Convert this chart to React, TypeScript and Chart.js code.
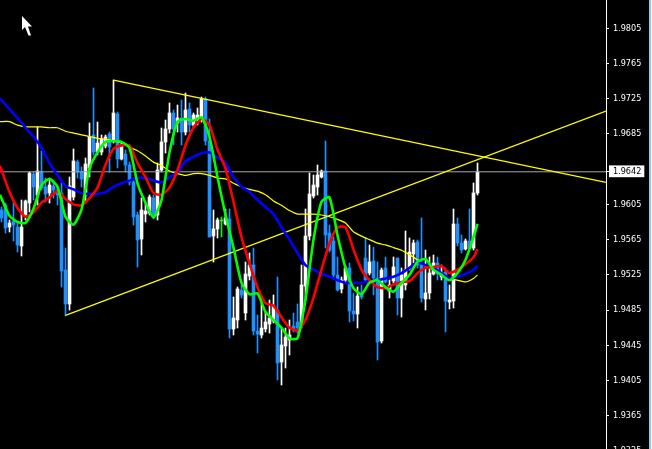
import React, { useEffect, useRef } from "react";
import { Chart, registerables } from "chart.js";

Chart.register(...registerables);

const opens = [1.9599,1.9604,1.9579,1.9586,1.9579,1.9558,1.9593,1.9607,1.9640,1.9616,1.9642,1.9625,1.9618,1.9626,1.9621,1.9618,1.9531,1.9492,1.9613,1.9653,1.9642,1.9616,1.9646,1.9684,1.9664,1.9664,1.9671,1.9685,1.9678,1.9708,1.9657,1.9662,1.9650,1.9630,1.9593,1.9566,1.9594,1.9595,1.9612,1.9593,1.9644,1.9676,1.9691,1.9709,1.9697,1.9703,1.9687,1.9713,1.9695,1.9701,1.9701,1.9725,1.9677,1.9569,1.9577,1.9586,1.9583,1.9588,1.9464,1.9474,1.9508,1.9482,1.9524,1.9536,1.9461,1.9457,1.9464,1.9469,1.9473,1.9485,1.9426,1.9444,1.9451,1.9467,1.9472,1.9468,1.9512,1.9569,1.9615,1.9625,1.9636,1.9643,1.9573,1.9563,1.9525,1.9509,1.9519,1.9533,1.9484,1.9481,1.9504,1.9544,1.9527,1.9541,1.9521,1.9450,1.9533,1.9507,1.9518,1.9544,1.9499,1.9514,1.9533,1.9549,1.9562,1.9536,1.9498,1.9504,1.9526,1.9538,1.9523,1.9528,1.9494,1.9495,1.9583,1.9561,1.9554,1.9563,1.9556,1.9618];
const highs = [1.9602,1.9607,1.9587,1.9607,1.9585,1.9610,1.9610,1.9642,1.9642,1.9693,1.9666,1.9635,1.9633,1.9633,1.9627,1.9630,1.9556,1.9636,1.9668,1.9655,1.9647,1.9658,1.9697,1.9737,1.9699,1.9684,1.9684,1.9687,1.9746,1.9710,1.9675,1.9667,1.9653,1.9635,1.9596,1.9612,1.9607,1.9616,1.9616,1.9652,1.9692,1.9701,1.9720,1.9712,1.9718,1.9724,1.9731,1.9720,1.9709,1.9714,1.9727,1.9727,1.9702,1.9599,1.9590,1.9591,1.9600,1.9600,1.9500,1.9511,1.9514,1.9540,1.9550,1.9556,1.9479,1.9493,1.9483,1.9497,1.9502,1.9523,1.9465,1.9465,1.9474,1.9482,1.9492,1.9536,1.9600,1.9641,1.9638,1.9650,1.9644,1.9677,1.9582,1.9568,1.9545,1.9523,1.9535,1.9538,1.9504,1.9511,1.9514,1.9567,1.9559,1.9557,1.9540,1.9533,1.9545,1.9519,1.9545,1.9544,1.9533,1.9575,1.9567,1.9565,1.9565,1.9590,1.9553,1.9545,1.9548,1.9545,1.9536,1.9533,1.9514,1.9600,1.9590,1.9570,1.9566,1.9600,1.9629,1.9652];
const lows = [1.9585,1.9573,1.9574,1.9563,1.9551,1.9546,1.9587,1.9596,1.9610,1.9604,1.9621,1.9608,1.9607,1.9612,1.9604,1.9511,1.9478,1.9485,1.9610,1.9635,1.9625,1.9607,1.9636,1.9661,1.9661,1.9661,1.9669,1.9642,1.9675,1.9646,1.9655,1.9642,1.9627,1.9582,1.9534,1.9548,1.9585,1.9593,1.9590,1.9587,1.9642,1.9663,1.9686,1.9672,1.9687,1.9672,1.9684,1.9687,1.9692,1.9695,1.9699,1.9672,1.9568,1.9540,1.9567,1.9568,1.9582,1.9453,1.9457,1.9465,1.9499,1.9474,1.9519,1.9457,1.9436,1.9453,1.9460,1.9459,1.9470,1.9406,1.9400,1.9419,1.9434,1.9460,1.9459,1.9465,1.9497,1.9565,1.9612,1.9616,1.9635,1.9556,1.9551,1.9521,1.9507,1.9504,1.9517,1.9472,1.9473,1.9465,1.9498,1.9517,1.9525,1.9502,1.9428,1.9448,1.9516,1.9499,1.9516,1.9479,1.9477,1.9508,1.9531,1.9538,1.9533,1.9494,1.9485,1.9498,1.9525,1.9519,1.9519,1.9460,1.9486,1.9487,1.9558,1.9550,1.9553,1.9556,1.9553,1.9616];
const closes = [1.9590,1.9578,1.9584,1.9582,1.9559,1.9579,1.9609,1.9641,1.9625,1.9643,1.9624,1.9617,1.9627,1.9621,1.9616,1.9529,1.9492,1.9626,1.9654,1.9642,1.9634,1.9651,1.9682,1.9664,1.9675,1.9679,1.9682,1.9670,1.9709,1.9657,1.9672,1.9650,1.9630,1.9591,1.9565,1.9599,1.9598,1.9613,1.9593,1.9644,1.9676,1.9691,1.9709,1.9691,1.9703,1.9687,1.9712,1.9695,1.9706,1.9706,1.9725,1.9677,1.9568,1.9577,1.9587,1.9586,1.9590,1.9464,1.9476,1.9509,1.9502,1.9526,1.9536,1.9461,1.9458,1.9465,1.9472,1.9476,1.9490,1.9425,1.9445,1.9455,1.9457,1.9462,1.9465,1.9514,1.9569,1.9617,1.9627,1.9638,1.9643,1.9570,1.9553,1.9525,1.9508,1.9519,1.9533,1.9484,1.9481,1.9501,1.9500,1.9519,1.9540,1.9521,1.9449,1.9531,1.9517,1.9514,1.9534,1.9499,1.9525,1.9531,1.9551,1.9561,1.9536,1.9499,1.9504,1.9527,1.9538,1.9526,1.9527,1.9495,1.9497,1.9583,1.9561,1.9553,1.9563,1.9556,1.9618,1.9642];

// moving averages, sampled every second candle plus the last candle
const maIndex = [-0.375,2,4,6,8,10,12,14,16,18,20,22,24,26,28,30,32,34,36,38,40,42,44,46,48,50,52,54,56,58,60,62,64,66,68,70,72,74,76,78,80,82,84,86,88,90,92,94,96,98,100,102,104,106,108,110,112,114,116,118,119];
const blueMa = [1.9725,1.9713,1.9703,1.9692,1.9682,1.9669,1.9652,1.9638,1.9626,1.9622,1.9618,1.9617,1.9617,1.9619,1.9625,1.9629,1.9632,1.9635,1.9635,1.9632,1.9630,1.9636,1.9642,1.9654,1.9659,1.9663,1.9664,1.9658,1.9652,1.9636,1.9625,1.9619,1.9610,1.9602,1.9594,1.9579,1.9565,1.9550,1.9536,1.9531,1.9526,1.9523,1.9519,1.9516,1.9516,1.9516,1.9518,1.9519,1.9521,1.9523,1.9527,1.9533,1.9540,1.9536,1.9533,1.9527,1.9521,1.9523,1.9526,1.9531,1.9535];
const redMa = [1.9649,1.9619,1.9601,1.9591,1.9596,1.9607,1.9613,1.9620,1.9611,1.9605,1.9604,1.9612,1.9624,1.9650,1.9668,1.9672,1.9672,1.9652,1.9636,1.9618,1.9616,1.9624,1.9644,1.9672,1.9692,1.9702,1.9695,1.9667,1.9646,1.9608,1.9568,1.9538,1.9511,1.9493,1.9490,1.9477,1.9465,1.9462,1.9474,1.9499,1.9531,1.9561,1.9579,1.9579,1.9554,1.9531,1.9519,1.9511,1.9510,1.9514,1.9517,1.9518,1.9527,1.9533,1.9534,1.9535,1.9527,1.9531,1.9537,1.9545,1.9554];
const greenMa = [1.9616,1.9592,1.9585,1.9584,1.9600,1.9627,1.9634,1.9625,1.9591,1.9582,1.9599,1.9646,1.9664,1.9676,1.9677,1.9676,1.9669,1.9629,1.9607,1.9590,1.9610,1.9664,1.9699,1.9702,1.9700,1.9704,1.9682,1.9636,1.9593,1.9556,1.9516,1.9503,1.9504,1.9483,1.9474,1.9465,1.9453,1.9453,1.9497,1.9565,1.9608,1.9613,1.9570,1.9533,1.9510,1.9503,1.9516,1.9519,1.9511,1.9506,1.9516,1.9525,1.9540,1.9543,1.9531,1.9525,1.9519,1.9527,1.9542,1.9568,1.9583];
const yellowMa = [1.9699,1.9699,1.9695,1.9693,1.9693,1.9693,1.9692,1.9692,1.9688,1.9686,1.9684,1.9682,1.9680,1.9679,1.9677,1.9675,1.9670,1.9666,1.9660,1.9653,1.9649,1.9643,1.9640,1.9638,1.9640,1.9640,1.9638,1.9635,1.9634,1.9629,1.9625,1.9622,1.9620,1.9616,1.9609,1.9604,1.9598,1.9594,1.9594,1.9594,1.9593,1.9591,1.9588,1.9584,1.9574,1.9569,1.9565,1.9561,1.9559,1.9556,1.9553,1.9548,1.9542,1.9535,1.9531,1.9526,1.9521,1.9519,1.9517,1.9521,1.9525];

const lastPrice = 1.9642;
const resistanceIndex = [28, 151.125];
const resistancePrice = [1.9746, 1.963];
const supportIndex = [16, 151.125];
const supportPrice = [1.9479, 1.9711];
const tickValues = [1.9805,1.9765,1.9725,1.9685,1.9642,1.9605,1.9565,1.9525,1.9485,1.9445,1.9405,1.9365,1.9325];

const xMin = -0.375;
const xMax = 151.125;
const yMax = 1.9837;
const yMin = 1.92922;

const zip = (xs: number[], ys: number[]) => xs.map((x, i) => ({ x, y: ys[i] }));
const candleColor = opens.map((o, i) =>
  closes[i] > o ? "#ffffff" : closes[i] < o ? "#1e90ff" : "#00ff00"
);

const lineDefaults = {
  type: "line" as const,
  pointRadius: 0,
  pointHoverRadius: 0,
  fill: false,
  parsing: false as const,
};

const decor = {
  id: "decor",
  beforeDraw(chart: any) {
    const c = chart.ctx;
    c.save();
    c.fillStyle = "#000";
    c.fillRect(0, 0, chart.width, chart.height);
    c.restore();
  },
  afterDatasetsUpdate(chart: any) {
    chart.data.datasets.forEach((d: any, idx: number) => {
      if (d.type !== "bar") return;
      chart.getDatasetMeta(idx).data.forEach((el: any) => {
        const y = Math.round(el.y);
        let base = Math.round(el.base);
        if (y === base) base = y + 1;
        el.y = y;
        el.base = base;
        el.height = base - y;
      });
    });
  },
  afterDraw(chart: any) {
    const c = chart.ctx;
    c.save();
    c.fillStyle = "#87ceeb";
    c.fillRect(649, 0, 2, chart.height);
    c.fillStyle = "#ffffff";
    c.fillRect(651, 0, 1, chart.height);
    c.beginPath();
    c.moveTo(22, 16);
    c.lineTo(22, 30);
    c.lineTo(25, 27);
    c.lineTo(28.5, 35.5);
    c.lineTo(31, 35.5);
    c.lineTo(28, 26.5);
    c.lineTo(32, 26.5);
    c.closePath();
    c.fill();
    c.restore();
  },
};

export default function App() {
  const ref = useRef<HTMLCanvasElement>(null);
  useEffect(() => {
    if (!ref.current) return;
    const chart = new Chart(ref.current, {
      type: "bar",
      data: {
        datasets: [
          {
            type: "bar",
            label: "wick",
            data: highs.map((h, i) => ({ x: i, y: [lows[i], h] })),
            backgroundColor: candleColor,
            barThickness: 1,
            grouped: false,
            borderWidth: 0,
            order: 10,
          },
          {
            type: "bar",
            label: "body",
            data: opens.map((o, i) => ({ x: i, y: [Math.min(o, closes[i]), Math.max(o, closes[i])] })),
            backgroundColor: candleColor,
            barThickness: 3,
            minBarLength: 1,
            grouped: false,
            borderWidth: 0,
            order: 9,
          },
          { ...lineDefaults, label: "last", data: zip([xMin, xMax], [lastPrice, lastPrice]), borderColor: "#a8a8a8", borderWidth: 1, order: 8 },
          { ...lineDefaults, label: "resistance", data: zip(resistanceIndex, resistancePrice), borderColor: "#ffff00", borderWidth: 1.2, order: 7 },
          { ...lineDefaults, label: "support", data: zip(supportIndex, supportPrice), borderColor: "#ffff00", borderWidth: 1.2, order: 7 },
          { ...lineDefaults, label: "ma4", data: zip(maIndex, yellowMa), borderColor: "#ffff00", borderWidth: 1.2, tension: 0.15, order: 6 },
          { ...lineDefaults, label: "ma3", data: zip(maIndex, blueMa), borderColor: "#0000ff", borderWidth: 2.6, tension: 0.2, order: 5 },
          { ...lineDefaults, label: "ma2", data: zip(maIndex, redMa), borderColor: "#ff0000", borderWidth: 2.6, tension: 0.2, order: 4 },
          { ...lineDefaults, label: "ma1", data: zip(maIndex, greenMa), borderColor: "#00ff00", borderWidth: 2.6, tension: 0.2, order: 3 },
        ] as any,
      },
      options: {
        animation: false,
        responsive: false,
        maintainAspectRatio: false,
        layout: { padding: 0 },
        events: [],
        plugins: { legend: { display: false }, tooltip: { enabled: false } },
        scales: {
          x: { type: "linear", display: false, offset: false, min: xMin, max: xMax, grid: { display: false } },
          y: {
            position: "right",
            min: yMin,
            max: yMax,
            afterBuildTicks: (s: any) => {
              s.ticks = tickValues.map((value) => ({ value }));
            },
            afterFit: (s: any) => {
              s.width = 46;
              s.paddingTop = 0;
              s.paddingBottom = 0;
              s.paddingLeft = 0;
              s.paddingRight = 0;
            },
            grid: { drawOnChartArea: false, drawTicks: true, tickLength: 3, tickColor: "#ffffff", tickWidth: 1 },
            border: { color: "#ffffff", width: 1 },
            ticks: {
              autoSkip: false,
              maxRotation: 0,
              padding: 4,
              align: "center",
              font: { family: "'DejaVu Sans Condensed', 'DejaVu Sans'", size: 9 },
              color: (ctx: any) => (ctx.tick?.value === lastPrice ? "#000000" : "#ffffff"),
              callback: (v: any) => Number(v).toFixed(4),
              showLabelBackdrop: (ctx: any) => ctx.tick?.value === lastPrice,
              backdropColor: "#ffffff",
              backdropPadding: { left: 4, right: 3, top: 1, bottom: 0 },
            },
          },
        },
      } as any,
      plugins: [decor],
    });
    return () => chart.destroy();
  }, []);
  return (
    <div style={{ position: "fixed", left: 0, top: 0, width: 652, height: 449, overflow: "hidden", background: "#000" }}>
      <canvas ref={ref} width={652} height={480} style={{ display: "block", width: 652, height: 480 }} />
    </div>
  );
}
